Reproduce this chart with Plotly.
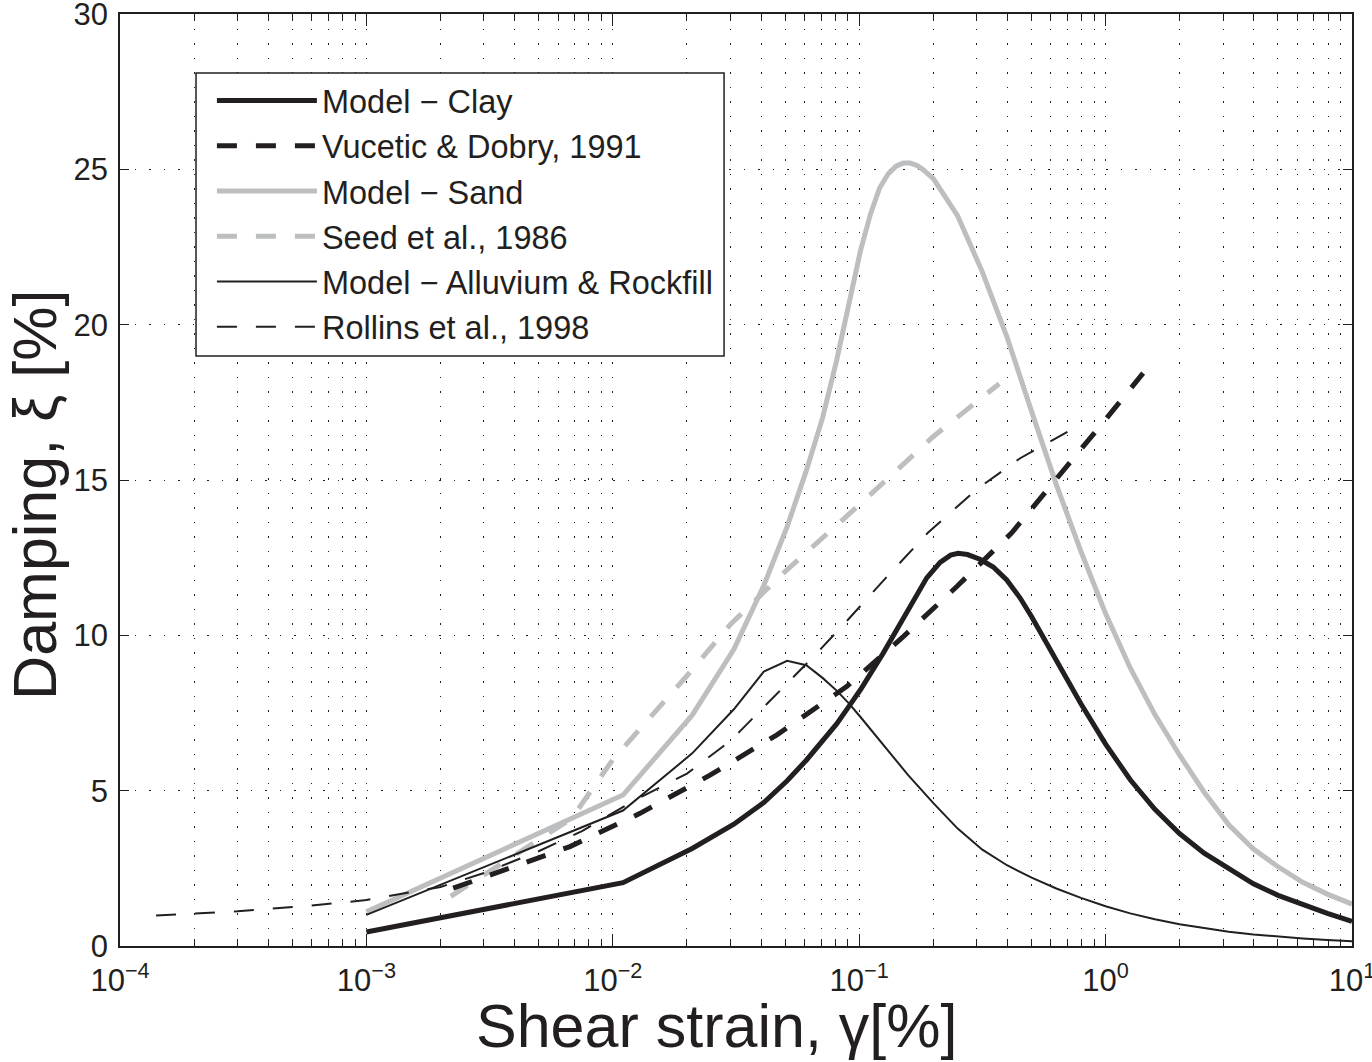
import plotly.graph_objects as go

# ---------------- data ----------------
clay_x = [0.001, 0.011, 0.021, 0.031, 0.041, 0.051, 0.061, 0.071, 0.081, 0.091, 0.101, 0.125,
          0.156, 0.188, 0.213, 0.235, 0.252, 0.275, 0.309, 0.35, 0.397, 0.45, 0.501, 0.631,
          0.794, 1.0, 1.259, 1.585, 1.995, 2.512, 3.162, 3.981, 5.012, 6.31, 7.943, 10.0]
clay_y = [0.45, 2.04, 3.14, 3.92, 4.62, 5.32, 5.98, 6.58, 7.15, 7.72, 8.24, 9.42,
          10.71, 11.85, 12.35, 12.58, 12.64, 12.6, 12.45, 12.2, 11.78, 11.2, 10.6, 9.2,
          7.8, 6.5, 5.35, 4.4, 3.62, 2.99, 2.5, 2.0, 1.63, 1.33, 1.05, 0.79]

vd_x = [0.00225, 0.0045, 0.0067, 0.0129, 0.0248, 0.0462, 0.0889, 0.151, 0.249, 0.416, 0.673, 1.0, 1.42]
vd_y = [1.86, 2.7, 3.20, 4.27, 5.50, 6.79, 8.35, 9.96, 11.57, 13.3, 15.27, 16.95, 18.44]

sand_x = [0.001, 0.011, 0.021, 0.031, 0.041, 0.051, 0.061, 0.071, 0.081, 0.091, 0.101, 0.111,
          0.121, 0.131, 0.141, 0.151, 0.161, 0.171, 0.181, 0.2, 0.251, 0.316, 0.398, 0.501,
          0.631, 0.794, 1.0, 1.259, 1.585, 1.995, 2.512, 3.162, 3.981, 5.012, 6.31, 7.943, 10.0]
sand_y = [1.10, 4.86, 7.43, 9.55, 11.6, 13.5, 15.3, 17.0, 18.85, 20.75, 22.35, 23.55,
          24.4, 24.85, 25.1, 25.2, 25.2, 25.13, 25.0, 24.7, 23.5, 21.7, 19.6, 17.2,
          14.85, 12.7, 10.7, 8.95, 7.45, 6.15, 4.95, 3.9, 3.12, 2.55, 2.05, 1.67, 1.35]

seed_x = [0.0022, 0.0068, 0.01, 0.02, 0.03, 0.05, 0.1, 0.2, 0.37]
seed_y = [1.6, 4.1, 6.0, 8.7, 10.35, 12.05, 14.2, 16.4, 18.1]

alluv_x = [0.001, 0.011, 0.021, 0.031, 0.041, 0.051, 0.061, 0.071, 0.081, 0.091, 0.101, 0.126,
           0.158, 0.2, 0.251, 0.316, 0.398, 0.501, 0.631, 0.794, 1.0, 1.259, 1.585, 1.995,
           2.512, 3.162, 3.981, 5.012, 6.31, 7.943, 10.0]
alluv_y = [1.0, 4.36, 6.20, 7.62, 8.83, 9.18, 9.04, 8.63, 8.22, 7.8, 7.38, 6.45,
           5.5, 4.6, 3.78, 3.1, 2.6, 2.2, 1.85, 1.55, 1.28, 1.05, 0.86, 0.7,
           0.57, 0.46, 0.37, 0.3, 0.24, 0.19, 0.15]

rol_x = [0.00014, 0.0003, 0.0006, 0.001, 0.002, 0.003, 0.005, 0.0075, 0.012, 0.02, 0.03,
         0.045, 0.065, 0.09, 0.13, 0.19, 0.3, 0.45, 0.7]
rol_y = [0.98, 1.12, 1.3, 1.48, 1.9, 2.35, 3.05, 3.7, 4.65, 5.55, 6.6,
         8.0, 9.3, 10.5, 11.9, 13.3, 14.7, 15.7, 16.55]

x_tickvals = [1e-4, 1e-3, 1e-2, 1e-1, 1e0, 1e1]
x_ticktext = ["10<sup>\u22124</sup>", "10<sup>\u22123</sup>", "10<sup>\u22122</sup>",
              "10<sup>\u22121</sup>", "10<sup>0</sup>", "10<sup>1</sup>"]
x_minorvals = [k * 10.0 ** d for d in range(-4, 1) for k in range(2, 10)]
y_tickvals = [0, 5, 10, 15, 20, 25, 30]

# ---------------- styling ----------------
BLACK = "#231f20"
GRAY = "#bcbec0"
FONT = "Liberation Sans, Arial, Helvetica, sans-serif"
DASH = "20px,19px"
GRIDDASH = "1.5px,13px"

fig = go.Figure()

traces = [
    # (name, x, y, color, width, dash, rank)
    ("Model \u2212 Sand", sand_x, sand_y, GRAY, 5, "solid", 3),
    ("Seed et al., 1986", seed_x, seed_y, GRAY, 5, DASH, 4),
    ("Model \u2212 Clay", clay_x, clay_y, BLACK, 5, "solid", 1),
    ("Vucetic & Dobry, 1991", vd_x, vd_y, BLACK, 5, DASH, 2),
    ("Model \u2212 Alluvium & Rockfill", alluv_x, alluv_y, BLACK, 2, "solid", 5),
    ("Rollins et al., 1998", rol_x, rol_y, BLACK, 2, DASH, 6),
]
for name, xs, ys, col, w, dash, rank in traces:
    fig.add_trace(go.Scatter(
        x=xs, y=ys, mode="lines", name=name, legendrank=rank,
        line=dict(color=col, width=w, dash=dash),
    ))

# legend frame (white box with black border), drawn above the traces
fig.add_shape(type="rect", xref="paper", yref="paper",
              x0=0.0617, x1=0.4903, y0=0.6330, y1=0.9367,
              fillcolor="white", line=dict(color=BLACK, width=1.5), layer="above")

fig.update_layout(
    width=1372, height=1062,
    margin=dict(l=120, r=20, t=14, b=116, autoexpand=False),
    paper_bgcolor="white", plot_bgcolor="white",
    font=dict(family=FONT, color=BLACK, size=31),
    showlegend=True,
    legend=dict(
        x=0.0746, y=0.9368, xanchor="left", yanchor="top",
        bgcolor="rgba(0,0,0,0)", borderwidth=0,
        font=dict(family=FONT, size=32.5, color=BLACK),
        itemwidth=100, tracegroupgap=0,
    ),
    xaxis=dict(
        type="log", range=[-4, 1], automargin=False,
        tickmode="array", tickvals=x_tickvals, ticktext=x_ticktext,
        ticks="inside", ticklen=12, tickwidth=1.2, tickcolor=BLACK,
        showline=True, linecolor=BLACK, linewidth=1.5, mirror="allticks",
        showgrid=True, gridcolor=BLACK, gridwidth=1, griddash=GRIDDASH,
        minor=dict(tickmode="array", tickvals=x_minorvals, ticks="inside", ticklen=7,
                   tickwidth=1, tickcolor=BLACK, showgrid=True, gridcolor=BLACK,
                   gridwidth=1, griddash=GRIDDASH),
        tickfont=dict(size=31, family=FONT, color=BLACK),
        ticklabeloverflow="allow", ticklabelstandoff=6,
        zeroline=False,
    ),
    yaxis=dict(
        range=[0, 30], tickmode="array", tickvals=y_tickvals, automargin=False,
        ticks="inside", ticklen=9, tickwidth=1.2, tickcolor=BLACK,
        showline=True, linecolor=BLACK, linewidth=1.5, mirror="allticks",
        showgrid=True, gridcolor=BLACK, gridwidth=1, griddash=GRIDDASH,
        tickfont=dict(size=31, family=FONT, color=BLACK),
        ticklabeloverflow="allow", ticklabelstandoff=4,
        zeroline=False,
    ),
    annotations=[
        dict(text="Shear strain, \u03b3[%]", xref="paper", yref="paper",
             x=0.4838, y=-0.0855, xanchor="center", yanchor="middle",
             showarrow=False, font=dict(size=61, family=FONT, color=BLACK)),
        dict(text="Damping, \u03be [%]", xref="paper", yref="paper",
             x=-0.069, y=0.484, xanchor="center", yanchor="middle", textangle=-90,
             showarrow=False, font=dict(size=61, family=FONT, color=BLACK)),
    ],
)

fig.write_html("out.html")
